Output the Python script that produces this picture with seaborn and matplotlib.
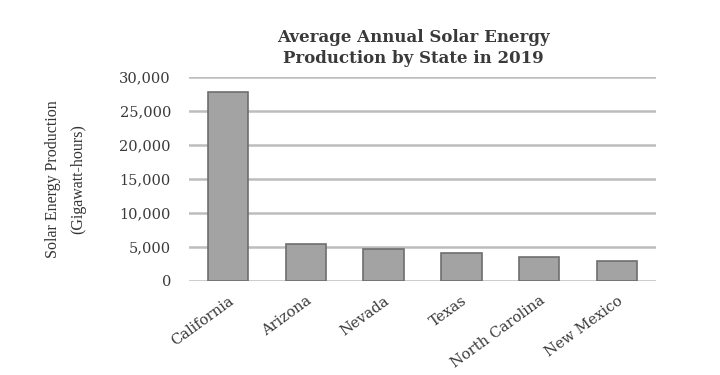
import matplotlib
matplotlib.use("Agg")
import matplotlib.pyplot as plt
import seaborn as sns
import pandas as pd
from matplotlib.ticker import FuncFormatter

states = ["California", "Arizona", "Nevada", "Texas", "North Carolina", "New Mexico"]
production = [27800, 5400, 4650, 4070, 3570, 2980]
yticks = [0, 5000, 10000, 15000, 20000, 25000, 30000]

sns.set_theme(style="white")
plt.rcParams["font.family"] = ["DejaVu Serif"]

df = pd.DataFrame({"State": states, "Production": production})

fig = plt.figure(figsize=(7.2, 3.75), dpi=100)
ax = fig.add_axes([0.2625, 0.2507, 0.6486, 0.544])

sns.barplot(data=df, x="State", y="Production", ax=ax, color="#a3a3a3",
            edgecolor="#6e6e6e", linewidth=1.2, width=0.52, saturation=1, zorder=3)

ax.set_ylim(0, 30000)
ax.set_yticks(yticks)
ax.yaxis.set_major_formatter(FuncFormatter(lambda v, p: f"{int(v):,}"))
ax.grid(axis="y", color="#bdbdbd", linewidth=1.8, zorder=0)
ax.grid(axis="x", visible=False)
for s in ax.spines.values():
    s.set_visible(False)
ax.tick_params(axis="y", length=0, pad=13, labelsize=10.5, labelcolor="#3a3a3a")
ax.tick_params(axis="x", length=0, pad=9, labelsize=10.5, labelcolor="#3a3a3a")
plt.setp(ax.get_xticklabels(), rotation=36, ha="right", rotation_mode="anchor")

ax.set_xlabel("")
ax.set_ylabel("Solar Energy Production\n(Gigawatt-hours)", fontsize=11.5,
              family="Liberation Serif", color="#333333", labelpad=24,
              linespacing=1.75)
ax.set_title("Average Annual Solar Energy\nProduction by State in 2019",
             fontsize=12, fontweight="bold", color="#3a3a3a", pad=10, x=0.48,
             linespacing=1.3)

fig.savefig("out.png", dpi=100, facecolor="white")
